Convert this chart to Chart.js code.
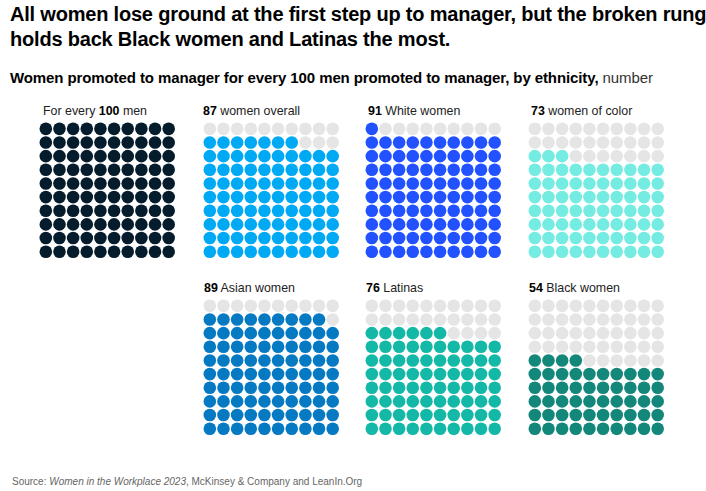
<!DOCTYPE html>
<html>
<head>
<meta charset="utf-8">
<script src="https://cdn.jsdelivr.net/npm/chart.js@4"></script>
<style>
  html, body { margin:0; padding:0; background:#fff; width:706px; height:491px; overflow:hidden; }
  body { position:relative; font-family:"Liberation Sans", Arial, sans-serif; color:#000; }
  .title { position:absolute; left:10px; top:2px; font-size:20px; font-weight:bold; line-height:25px; letter-spacing:-0.2px; width:700px; }
  .subtitle { position:absolute; left:10px; top:69px; font-size:15px; font-weight:bold; white-space:nowrap; letter-spacing:-0.1px; }
  .subtitle span { font-weight:normal; color:#333; }
  .lbl { position:absolute; font-size:12.4px; white-space:nowrap; color:#222; }
  .lbl b { color:#000; }
  .panel { position:absolute; }
  .source { position:absolute; left:12px; top:476px; font-size:10px; color:#666; white-space:nowrap; }
</style>
</head>
<body>
<div class="title">All women lose ground at the first step up to manager, but the broken rung<br>holds back Black women and Latinas the most.</div>
<div class="subtitle">Women promoted to manager for every 100 men promoted to manager, by ethnicity, <span>number</span></div>
<div class="source">Source: <i>Women in the Workplace 2023</i>, McKinsey &amp; Company and LeanIn.Org</div>
<script>
// ---- data ----
const categories = ['men', 'women overall', 'White women', 'women of color', 'Asian women', 'Latinas', 'Black women'];
const values = [100, 87, 91, 73, 89, 76, 54];
const colors = ['#051c2c', '#00a9f4', '#2251ff', '#74ece2', '#0679c3', '#14b8a6', '#12877a'];
const emptyColor = '#e5e5e5';
const gridSize = 10;

// panel placement (layout only)
const panelLeft = [38.5, 202.5, 364.5, 527.5, 202.5, 364.5, 527.5];
const panelTop  = [121.5, 121.5, 121.5, 121.5, 298.5, 298.5, 298.5];
const labelTop  = [104, 104, 104, 104, 281, 281, 281];
const labelLeft = [43, 203, 368, 531, 204, 366, 529];
const pitch = 13.65;
const side = pitch * gridSize;

function cellsFor(n) {
  const filled = [], empty = [];
  for (let k = 0; k < gridSize * gridSize; k++) {
    const row = Math.floor(k / gridSize);      // 0 = bottom row
    const col = k % gridSize;
    const pt = { x: col, y: row };
    if (k < n) filled.push(pt); else empty.push(pt);
  }
  return { filled, empty };
}

categories.forEach((cat, i) => {
  const lbl = document.createElement('div');
  lbl.className = 'lbl';
  lbl.style.left = labelLeft[i] + 'px';
  lbl.style.top = labelTop[i] + 'px';
  if (i === 0) lbl.innerHTML = 'For every <b>' + values[i] + '</b> ' + cat;
  else lbl.innerHTML = '<b>' + values[i] + '</b> ' + cat;
  document.body.appendChild(lbl);

  const wrap = document.createElement('div');
  wrap.className = 'panel';
  wrap.style.left = panelLeft[i] + 'px';
  wrap.style.top = panelTop[i] + 'px';
  wrap.style.width = side + 'px';
  wrap.style.height = side + 'px';
  const cv = document.createElement('canvas');
  wrap.appendChild(cv);
  document.body.appendChild(wrap);

  const c = cellsFor(values[i]);
  new Chart(cv, {
    type: 'scatter',
    data: {
      datasets: [
        { data: c.empty, backgroundColor: emptyColor, pointRadius: 6.3, pointHoverRadius: 6.3, borderWidth: 0 },
        { data: c.filled, backgroundColor: colors[i], pointRadius: 6.3, pointHoverRadius: 6.3, borderWidth: 0 }
      ]
    },
    options: {
      responsive: true,
      maintainAspectRatio: false,
      animation: false,
      events: [],
      layout: { padding: 0, autoPadding: false },
      plugins: { legend: { display: false }, tooltip: { enabled: false } },
      scales: {
        x: { type: 'linear', min: -0.5, max: gridSize - 0.5, display: false },
        y: { type: 'linear', min: -0.5, max: gridSize - 0.5, display: false }
      }
    }
  });
});
</script>
</body>
</html>
